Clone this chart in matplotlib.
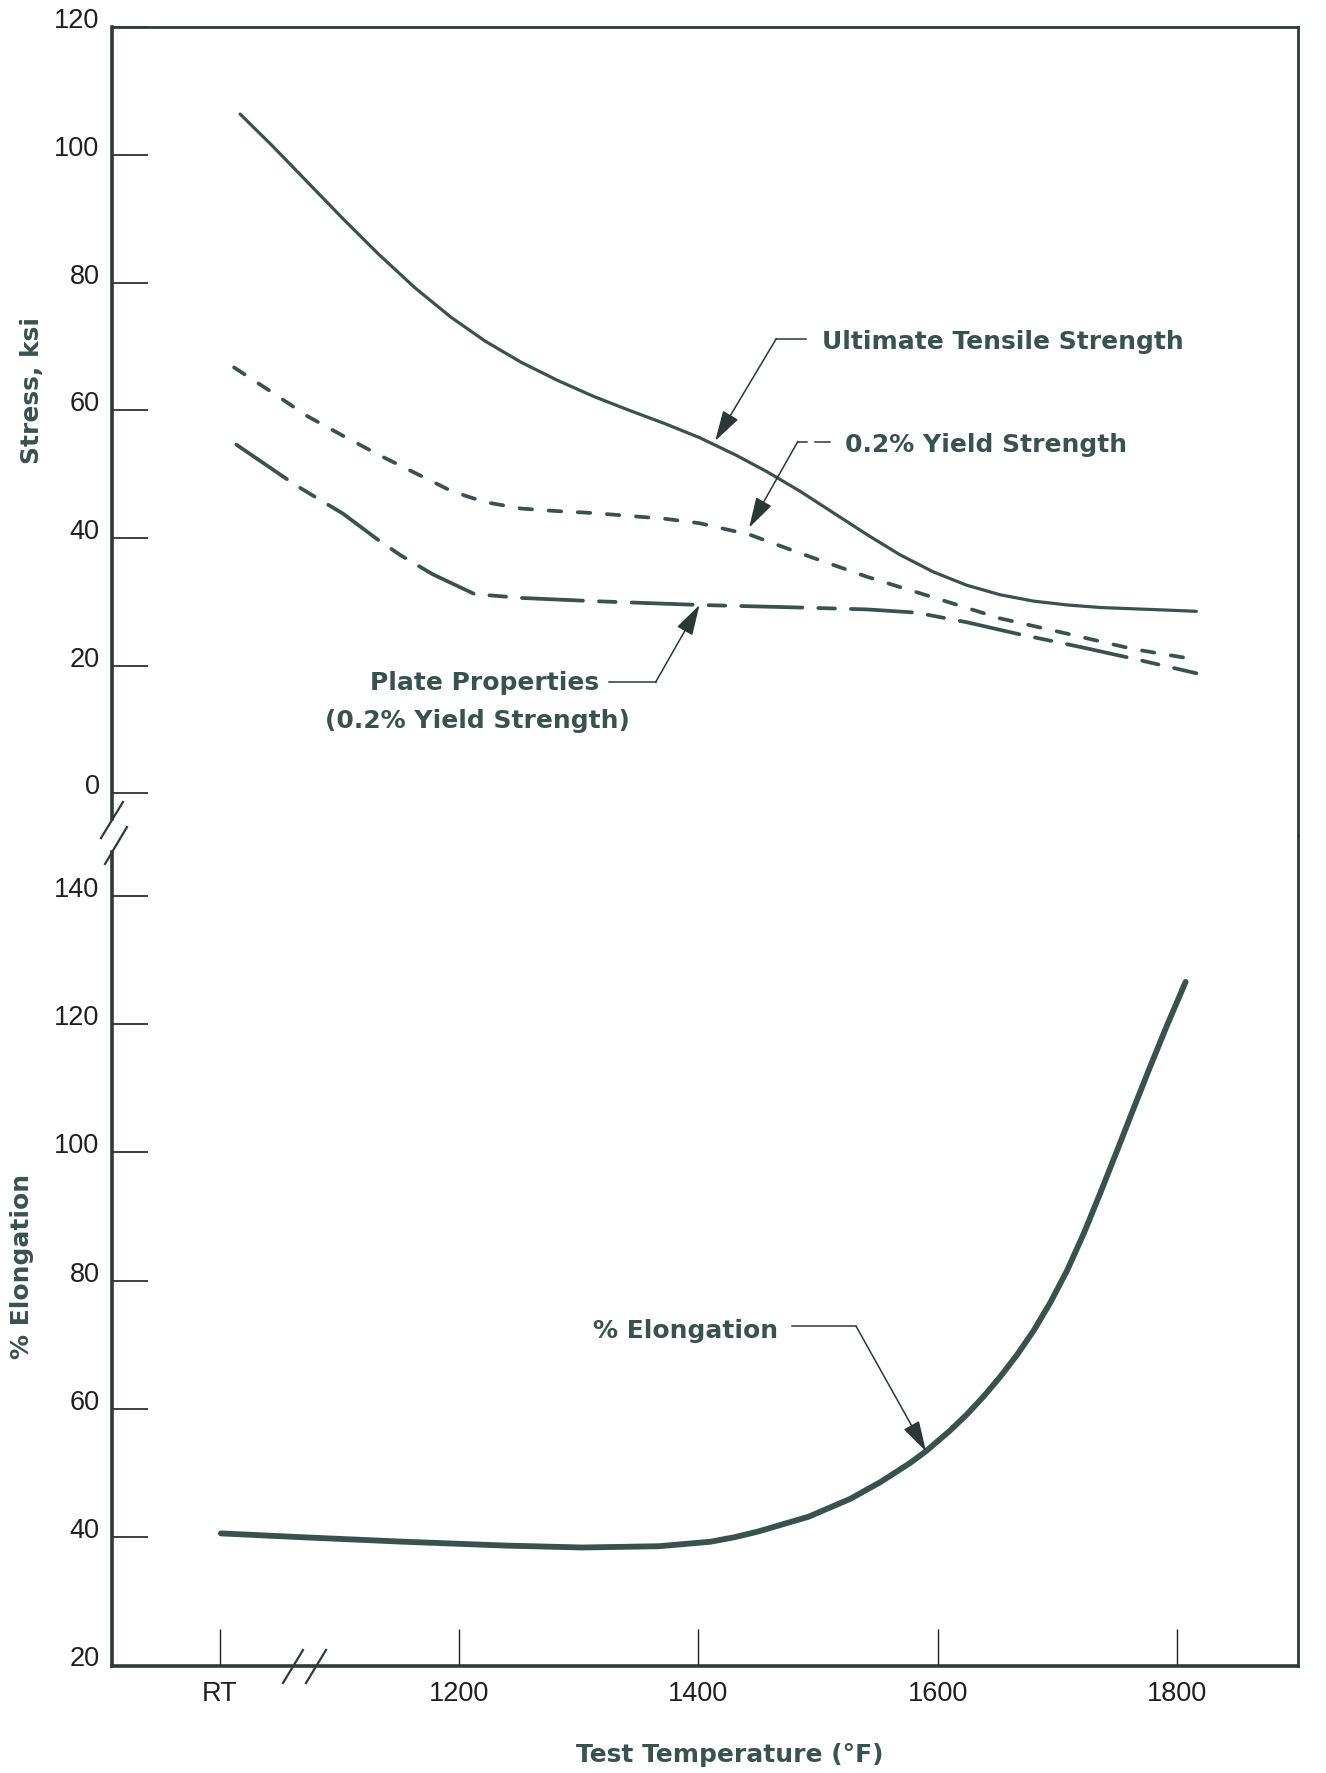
import matplotlib
matplotlib.use("Agg")
import matplotlib.pyplot as plt
import matplotlib.transforms as mtransforms
from matplotlib.lines import Line2D

plt.rcParams['lines.scale_dashes'] = False

# ---------------- data ----------------
# temperature axis: "RT" is plotted at position 1000
x_ticks = [1000, 1200, 1400, 1600, 1800]
x_ticklabels = ["RT", "1200", "1400", "1600", "1800"]
stress_ticks = [0, 20, 40, 60, 80, 100, 120]
elong_ticks = [20, 40, 60, 80, 100, 120, 140]

uts_temp = [1017, 1043, 1073, 1103, 1133, 1163, 1193, 1222, 1252, 1282, 1312, 1342,
            1372, 1401, 1431, 1457, 1485, 1513, 1541, 1568, 1596, 1624, 1652, 1680,
            1708, 1736, 1763, 1791, 1816]
uts_ksi = [106.4, 101.6, 95.8, 90.0, 84.4, 79.2, 74.6, 70.8, 67.5, 64.7, 62.2, 60.0,
           57.9, 55.7, 53.0, 50.4, 47.3, 43.9, 40.5, 37.4, 34.7, 32.6, 31.1, 30.1,
           29.5, 29.1, 28.9, 28.7, 28.5]

ys_temp = [1012, 1043, 1073, 1103, 1133, 1163, 1193, 1207, 1222, 1252, 1282, 1312,
           1372, 1401, 1443, 1485, 1541, 1596, 1652, 1708, 1763, 1814]
ys_ksi = [66.7, 62.9, 59.1, 56.0, 53.0, 50.2, 47.4, 46.5, 45.6, 44.6, 44.2, 43.9,
          43.0, 42.3, 40.5, 37.6, 33.9, 30.7, 27.4, 25.0, 22.6, 21.0]

plate_temp = [1014, 1064, 1103, 1133, 1151, 1178, 1213, 1252, 1312, 1401, 1485, 1541,
              1582, 1624, 1666, 1722, 1763, 1816]
plate_ksi = [54.6, 48.2, 43.8, 39.6, 37.3, 34.3, 31.2, 30.6, 30.1, 29.5, 29.1, 28.8,
             28.3, 26.8, 25.0, 22.8, 21.1, 18.8]

elong_temp = [1001, 1069, 1154, 1239, 1303, 1367, 1410, 1430, 1450, 1492, 1527, 1552,
              1577, 1590, 1610, 1624, 1638, 1652, 1666, 1680, 1694, 1708, 1722, 1736,
              1750, 1763, 1777, 1791, 1807]
elong_pct = [40.6, 40.0, 39.3, 38.7, 38.4, 38.6, 39.3, 40.0, 40.9, 43.2, 46.0, 48.6,
             51.6, 53.4, 56.6, 59.1, 61.9, 65.0, 68.4, 72.2, 76.6, 81.6, 87.4, 93.8,
             100.4, 106.6, 113.2, 119.6, 126.6]

# ---------------- styling ----------------
INK = '#3a524e'
AXC = '#2e3b39'
LEAD = '#2b3836'
TICKC = '#1f1f1f'
BOLD = dict(family='DejaVu Sans', fontweight='bold', color=INK)

W, H = 1326, 1773
fig = plt.figure(figsize=(W / 100, H / 100), dpi=100)
fig.patch.set_facecolor('white')


def fx(px):
    return px / W


def fy(py):
    return 1 - py / H


left_px, right_px = 112, 1297.5
brk_px = 836
ax_top = fig.add_axes([fx(left_px), fy(brk_px), (right_px - left_px) / W, (brk_px - 27.2) / H])
ax_bot = fig.add_axes([fx(left_px), fy(1665.5), (right_px - left_px) / W, (1665.5 - brk_px) / H])

for ax in (ax_top, ax_bot):
    ax.set_xlim(910, 1900.5)
    for s in ax.spines.values():
        s.set_color(AXC)
        s.set_linewidth(2.0)
    ax.spines['left'].set_linewidth(2.6)

ax_top.set_ylim(-6.69, 120)
ax_bot.set_ylim(20, 149.35)

ax_top.spines['bottom'].set_visible(False)
ax_bot.spines['top'].set_visible(False)
ax_top.spines['left'].set_bounds(-4.0, 120)
ax_bot.spines['left'].set_bounds(20, 146.9)
ax_bot.spines['bottom'].set_linewidth(2.6)

# ticks
ax_top.tick_params(axis='x', bottom=False, labelbottom=False)
ax_bot.set_xticks(x_ticks)
ax_bot.set_xticklabels(x_ticklabels)
ax_bot.tick_params(axis='x', direction='in', length=27, width=1.0, color=TICKC,
                   pad=11, labelsize=19.5, labelcolor=TICKC, top=False)
ax_top.set_yticks(stress_ticks)
ax_bot.set_yticks(elong_ticks)
for ax in (ax_top, ax_bot):
    ax.tick_params(axis='y', direction='in', length=26, width=1.2, color=TICKC,
                   pad=9, labelsize=19.5, labelcolor=TICKC, right=False)
    for lab in ax.get_yticklabels() + ax.get_xticklabels():
        lab.set_fontfamily('Liberation Sans')
    off = mtransforms.ScaledTranslation(0, 0.09, fig.dpi_scale_trans)
    for lab in ax.get_yticklabels():
        lab.set_transform(lab.get_transform() + off)

# ---------------- curves ----------------
ax_top.plot(uts_temp, uts_ksi, color=INK, lw=2.3, solid_capstyle='round', solid_joinstyle='round')
ax_top.plot(ys_temp, ys_ksi, color=INK, lw=2.7, dash_capstyle='round',
            linestyle=(0, (9, 12)))
ax_top.plot(plate_temp, plate_ksi, color=INK, lw=2.7, dash_capstyle='round',
            linestyle=(0, (44, 11.5, 12, 11.5)))
ax_bot.plot(elong_temp, elong_pct, color=INK, lw=4.2, solid_capstyle='round', solid_joinstyle='round')

# ---------------- annotations ----------------
arrow = dict(arrowstyle='-|>,head_length=1.9,head_width=0.55', mutation_scale=10,
             color=LEAD, lw=1.1, shrinkA=0, shrinkB=0)
FS = 18

# Ultimate tensile strength
ax_top.text(1503, 70.7, "Ultimate Tensile Strength", ha='left', va='center', fontsize=FS, **BOLD)
ax_top.plot([1490, 1465], [71.2, 71.2], color=LEAD, lw=1.1)
ax_top.annotate('', xy=(1414, 55.2), xytext=(1465, 71.2), arrowprops=arrow)

# 0.2% yield strength (dashed leader)
ax_top.text(1522.5, 54.6, "0.2% Yield Strength", ha='left', va='center', fontsize=FS, **BOLD)
ax_top.plot([1483, 1490.5], [55.1, 55.1], color=LEAD, lw=1.1)
ax_top.plot([1497.5, 1510], [55.1, 55.1], color=LEAD, lw=1.1)
ax_top.annotate('', xy=(1442.3, 41.6), xytext=(1483, 55.1), arrowprops=arrow)

# plate properties
ax_top.text(1221, 17.3, "Plate Properties", ha='center', va='center', fontsize=FS, **BOLD)
ax_top.text(1215.5, 11.3, "(0.2% Yield Strength)", ha='center', va='center', fontsize=FS, **BOLD)
ax_top.plot([1325.5, 1364.2], [17.4, 17.4], color=LEAD, lw=1.1)
ax_top.annotate('', xy=(1400.9, 29.5), xytext=(1364.2, 17.4), arrowprops=arrow)

# % elongation
ax_bot.text(1312, 72.2, "% Elongation", ha='left', va='center', fontsize=FS, **BOLD)
ax_bot.plot([1478, 1531.7], [72.9, 72.9], color=LEAD, lw=1.1)
ax_bot.annotate('', xy=(1590.1, 53.4), xytext=(1531.7, 72.9), arrowprops=arrow)

# ---------------- axis titles ----------------
fig.text(fx(32), fy(390), "Stress, ksi", rotation=90, ha='center', va='center', fontsize=FS, **BOLD)
fig.text(fx(22), fy(1266), "% Elongation", rotation=90, ha='center', va='center', fontsize=FS, **BOLD)
fig.text(fx(730), fy(1755), "Test Temperature (°F)", ha='center', va='center', fontsize=FS, **BOLD)

# ---------------- break marks ----------------
for (x0, y0, x1, y1) in [(101, 838, 123, 802), (105, 864, 127, 827),
                         (283, 1683, 303, 1650), (306, 1683, 326, 1650)]:
    fig.add_artist(Line2D([fx(x0), fx(x1)], [fy(y0), fy(y1)], transform=fig.transFigure,
                          color=AXC, lw=1.6))

fig.savefig("out.png", dpi=100, facecolor='white')
